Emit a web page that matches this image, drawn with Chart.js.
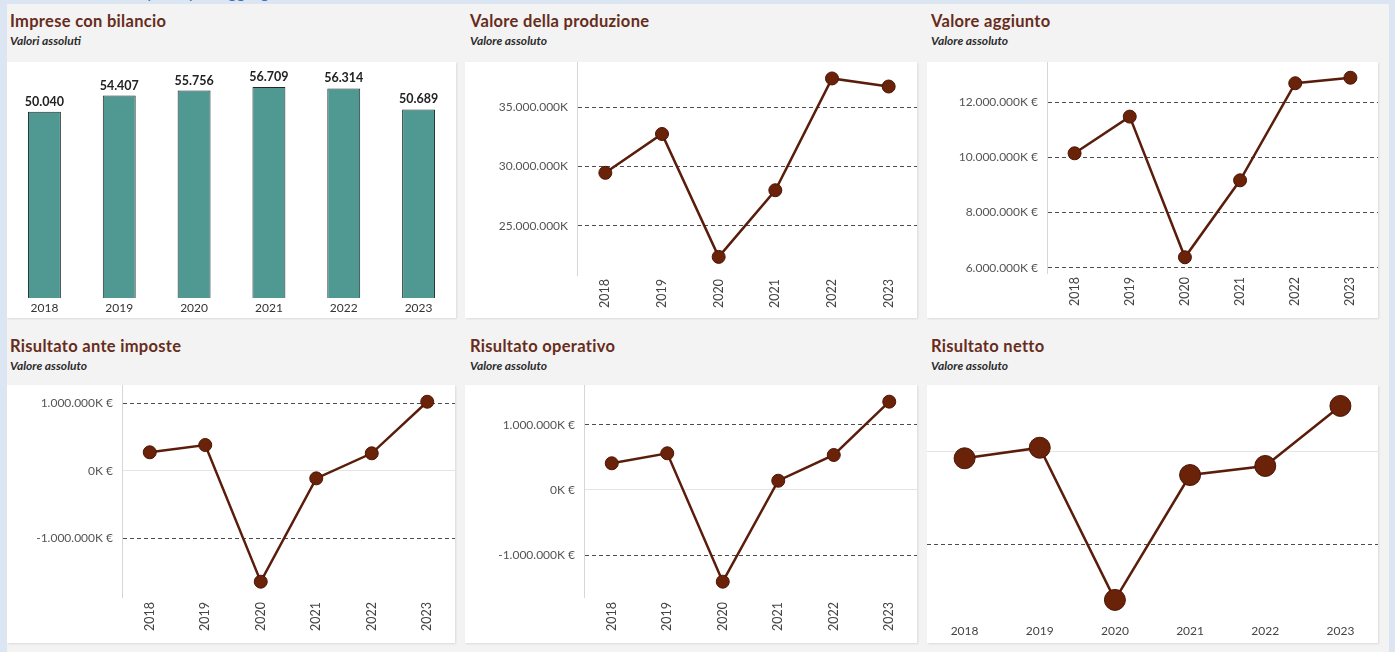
<!DOCTYPE html>
<html lang="it">
<head>
<meta charset="utf-8">
<title>Principali aggregati di bilancio</title>
<script src="https://cdn.jsdelivr.net/npm/chart.js@4"></script>
<style>
  body { margin: 0; background: #dce6f2; font-family: Lato, "Noto Sans", sans-serif; }
  #page { position: relative; width: 1395px; height: 652px; overflow: hidden; background: #dce6f2; }
  #hdr { position: absolute; left: 7px; top: 0; width: 600px; height: 4px; overflow: hidden; }
  #hdr span { position: absolute; left: 60px; top: -18px; font: 17px/20px Lato; color: #3d72b8; white-space: nowrap; }
  #sheet { position: absolute; left: 7px; top: 4px; width: 1382px; height: 648px; background: #f3f3f3; }
  .title { position: absolute; font: bold 16.5px/20px Lato; letter-spacing: 0.3px; color: #672c1b; white-space: nowrap; }
  .sub { position: absolute; font: italic bold 12px/14px Lato; color: #2b2b2b; white-space: nowrap; }
  .box { position: absolute; background: #fff; box-shadow: 1px 1px 2px rgba(0,0,0,0.10); }
</style>
</head>
<body>
<div id="page">
  <div id="hdr"><span>Sintesi dei principali aggregati di bilancio</span></div>
  <div id="sheet"></div>

  <div class="title" style="left:10px;top:11px">Imprese con bilancio</div>
  <div class="sub" style="left:10px;top:34px">Valori assoluti</div>
  <div class="box" style="left:7px;top:62px;width:449px;height:256px"><canvas id="cImprese"></canvas></div>

  <div class="title" style="left:470px;top:11px">Valore della produzione</div>
  <div class="sub" style="left:470px;top:34px">Valore assoluto</div>
  <div class="box" style="left:465px;top:62px;width:452px;height:256px"><canvas id="cProduzione"></canvas></div>

  <div class="title" style="left:931px;top:11px">Valore aggiunto</div>
  <div class="sub" style="left:931px;top:34px">Valore assoluto</div>
  <div class="box" style="left:927px;top:62px;width:451px;height:256px"><canvas id="cAggiunto"></canvas></div>

  <div class="title" style="left:10px;top:336px">Risultato ante imposte</div>
  <div class="sub" style="left:10px;top:359px">Valore assoluto</div>
  <div class="box" style="left:7px;top:385px;width:448px;height:258px"><canvas id="cAnte"></canvas></div>

  <div class="title" style="left:470px;top:336px">Risultato operativo</div>
  <div class="sub" style="left:470px;top:359px">Valore assoluto</div>
  <div class="box" style="left:465px;top:385px;width:452px;height:258px"><canvas id="cOperativo"></canvas></div>

  <div class="title" style="left:931px;top:336px">Risultato netto</div>
  <div class="sub" style="left:931px;top:359px">Valore assoluto</div>
  <div class="box" style="left:927px;top:385px;width:451px;height:258px"><canvas id="cNetto"></canvas></div>
</div>

<script>
// dati (importi in migliaia di euro)
const anni = ['2018', '2019', '2020', '2021', '2022', '2023'];
const impreseConBilancio = [50040, 54407, 55756, 56709, 56314, 50689];
const valoreProduzione = [29470000, 32750000, 22370000, 28000000, 37440000, 36760000];
const valoreAggiunto = [10150000, 11480000, 6380000, 9170000, 12690000, 12890000];
const risultatoAnteImposte = [273000, 381000, -1644000, -113000, 258000, 1022000];
const risultatoOperativo = [409000, 562000, -1404000, 142000, 536000, 1353000];
const risultatoNetto = [-71000, 43000, -1600000, -252000, -154000, 494000];

const tickProduzione = [25000000, 30000000, 35000000];
const tickAggiunto = [6000000, 8000000, 10000000, 12000000];
const tickRisultati = [-1000000, 0, 1000000];
const tickNetto = [-1000000, 0];

const LINE = '#5a1d0b';
const DOT = '#6a2208';

const fmt = v => String(Math.abs(Math.round(v))).replace(/\B(?=(\d{3})+(?!\d))/g, '.');
const fmtSigned = v => (v < 0 ? '-' : '') + fmt(v);

// etichette sopra le barre
const barValueLabels = {
    id: 'barValueLabels',
    afterDatasetsDraw(chart) {
        const ctx = chart.ctx;
        const meta = chart.getDatasetMeta(0);
        ctx.save();
        ctx.font = 'bold 12.5px Lato';
        ctx.fillStyle = '#222';
        ctx.textAlign = 'center';
        ctx.textBaseline = 'alphabetic';
        meta.data.forEach((bar, i) => {
            ctx.fillText(fmt(impreseConBilancio[i]), bar.x, bar.y - 6);
        });
        ctx.restore();
    },
};

new Chart(document.getElementById('cImprese'), {
    type: 'bar',
    data: {
        labels: anni,
        datasets: [{
            data: impreseConBilancio,
            backgroundColor: '#4f9992',
            borderColor: '#1e2b2a',
            borderWidth: 1,
            barPercentage: 0.44,
            categoryPercentage: 1,
        }],
    },
    options: {
        responsive: true,
        maintainAspectRatio: false,
        animation: false,
        layout: { padding: 0, autoPadding: false },
        plugins: { legend: { display: false }, tooltip: { enabled: false } },
        scales: {
            x: {
                grid: { display: false, drawTicks: false },
                border: { display: false },
                ticks: { maxRotation: 0, padding: 3, color: '#333', font: { family: 'Lato', size: 12 } },
                afterFit: s => { s.height = 20; s.paddingLeft = 0; s.paddingRight = 0; },
            },
            y: { display: false, min: 0, max: 63430 },
        },
    },
    plugins: [barValueLabels],
});

function lineChart(id, values, cfg) {
    return new Chart(document.getElementById(id), {
        type: 'line',
        data: {
            labels: anni,
            datasets: [{
                data: values,
                borderColor: LINE,
                borderWidth: 2.5,
                tension: 0,
                pointRadius: cfg.radius,
                pointBackgroundColor: DOT,
                pointBorderColor: '#4a1505',
                pointBorderWidth: 1,
                clip: false,
            }],
        },
        options: {
            responsive: true,
            maintainAspectRatio: false,
            animation: false,
            layout: { padding: 0, autoPadding: false },
            plugins: { legend: { display: false }, tooltip: { enabled: false } },
            scales: {
                x: {
                    offset: true,
                    grid: { display: false, drawTicks: false },
                    border: { display: false },
                    ticks: {
                        minRotation: cfg.rot,
                        maxRotation: cfg.rot,
                        padding: cfg.xPad,
                        color: '#444',
                        font: { family: 'Lato', size: cfg.xSize },
                    },
                    afterFit: s => { s.height = cfg.xH; s.paddingLeft = 0; s.paddingRight = 0; },
                },
                y: {
                    min: cfg.min,
                    max: cfg.max,
                    afterBuildTicks: s => { s.ticks = cfg.ticks.map(v => ({ value: v })); },
                    grid: {
                        drawTicks: false,
                        lineWidth: 1,
                        color: c => (c.tick && c.tick.value === 0) ? '#e4e4e4' : '#4d4d4d',
                    },
                    border: {
                        display: cfg.yW > 0,
                        color: '#d6d6d6',
                        dash: c => (c.tick && c.tick.value === 0) ? [] : [4, 3],
                    },
                    ticks: {
                        display: cfg.yW > 0,
                        padding: 9,
                        color: '#555',
                        font: { family: 'Lato', size: 12, lineHeight: 0.1 },
                        callback: v => fmtSigned(v) + cfg.suffix,
                    },
                    afterFit: s => { s.width = cfg.yW; s.paddingTop = 0; s.paddingBottom = 0; },
                },
            },
        },
    });
}

lineChart('cProduzione', valoreProduzione, {
    min: 20840000, max: 38830000, ticks: tickProduzione, suffix: 'K',
    yW: 112, xH: 43, rot: 90, xPad: 4, xSize: 12.5, radius: 6.5,
});
lineChart('cAggiunto', valoreAggiunto, {
    min: 5810000, max: 13460000, ticks: tickAggiunto, suffix: 'K €',
    yW: 120, xH: 45, rot: 90, xPad: 4, xSize: 12.5, radius: 6.5,
});
lineChart('cAnte', risultatoAnteImposte, {
    min: -1871000, max: 1270000, ticks: tickRisultati, suffix: 'K €',
    yW: 115, xH: 46, rot: 90, xPad: 5, xSize: 12.5, radius: 6.5,
});
lineChart('cOperativo', risultatoOperativo, {
    min: -1639000, max: 1608000, ticks: tickRisultati, suffix: 'K €',
    yW: 119, xH: 46, rot: 90, xPad: 5, xSize: 12.5, radius: 6.5,
});
lineChart('cNetto', risultatoNetto, {
    min: -1817000, max: 720000, ticks: tickNetto, suffix: '',
    yW: 0, xH: 23, rot: 0, xPad: 4, xSize: 12, radius: 10.5,
});
</script>
</body>
</html>
